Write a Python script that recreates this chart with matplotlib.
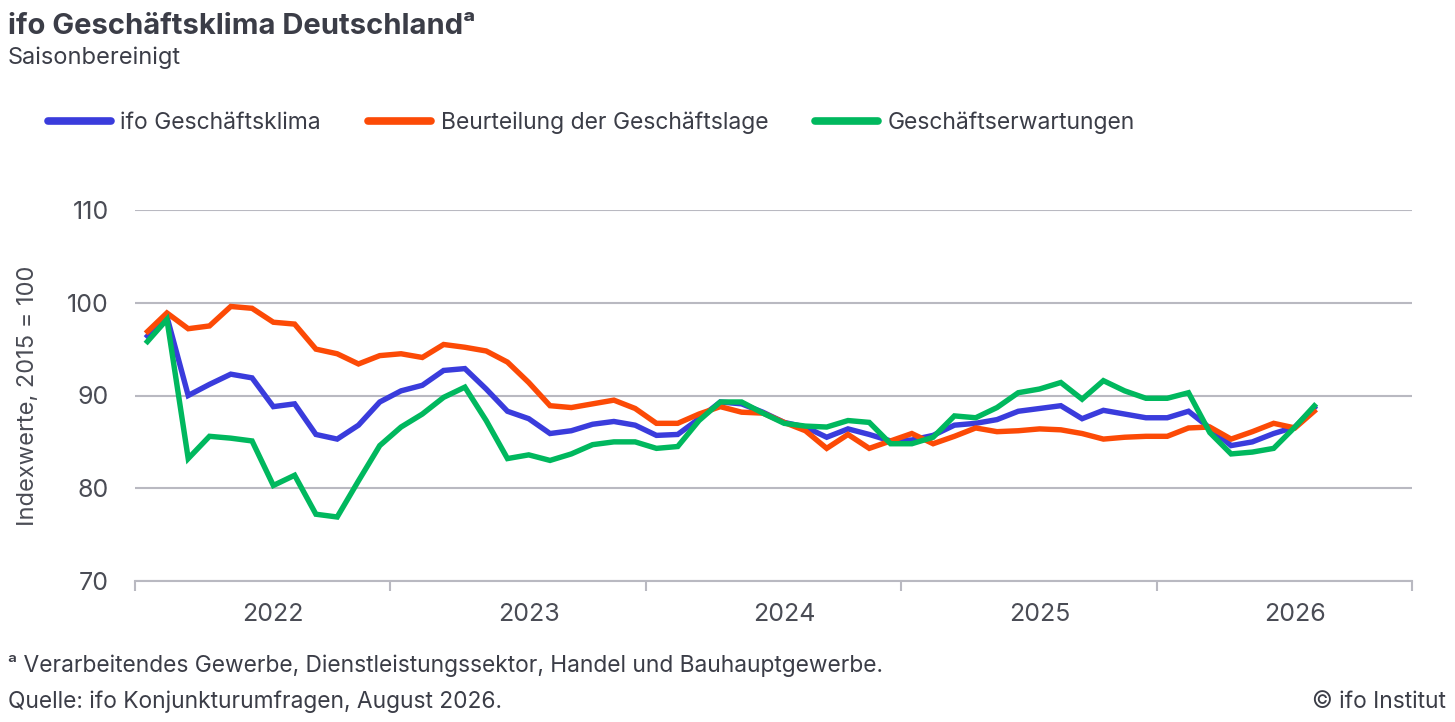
import matplotlib
matplotlib.use("Agg")
import matplotlib.pyplot as plt
import numpy as np

plt.rcParams['font.family'] = ['Inter', 'DejaVu Sans']

# monthly values Jan 2022 .. Aug 2026
klima = [96.2, 98.5, 90.0, 91.2, 92.3, 91.9, 88.8, 89.1, 85.8, 85.3, 86.8, 89.3,
         90.5, 91.1, 92.7, 92.9, 90.7, 88.3, 87.5, 85.9, 86.2, 86.9, 87.2, 86.8,
         85.7, 85.8, 87.5, 89.3, 89.1, 88.2, 87.1, 86.6, 85.5, 86.4, 85.8, 85.1,
         85.2, 85.7, 86.8, 87.0, 87.4, 88.3, 88.6, 88.9, 87.5, 88.4, 88.0, 87.6,
         87.6, 88.3, 86.5, 84.6, 85.0, 85.9, 86.6, 88.9]
lage = [96.7, 98.9, 97.2, 97.5, 99.6, 99.4, 97.9, 97.7, 95.0, 94.5, 93.4, 94.3,
        94.5, 94.1, 95.5, 95.2, 94.8, 93.6, 91.4, 88.9, 88.7, 89.1, 89.5, 88.6,
        87.0, 87.0, 88.0, 88.8, 88.2, 88.1, 87.1, 86.2, 84.3, 85.8, 84.3, 85.1,
        85.9, 84.8, 85.6, 86.5, 86.1, 86.2, 86.4, 86.3, 85.9, 85.3, 85.5, 85.6,
        85.6, 86.5, 86.6, 85.3, 86.1, 87.0, 86.5, 88.5]
erwart = [95.6, 98.2, 83.2, 85.6, 85.4, 85.1, 80.3, 81.4, 77.2, 76.9, 80.8, 84.6,
          86.6, 88.0, 89.8, 90.9, 87.3, 83.2, 83.6, 83.0, 83.7, 84.7, 85.0, 85.0,
          84.3, 84.5, 87.3, 89.3, 89.3, 88.1, 87.0, 86.7, 86.6, 87.3, 87.1, 84.8,
          84.8, 85.5, 87.8, 87.6, 88.7, 90.3, 90.7, 91.4, 89.6, 91.6, 90.5, 89.7,
          89.7, 90.3, 86.0, 83.7, 83.9, 84.3, 86.6, 89.1]
years = ['2022', '2023', '2024', '2025', '2026']
series_names = ['ifo Geschäftsklima', 'Beurteilung der Geschäftslage', 'Geschäftserwartungen']
colors = ['#3a3cdc', '#fc4a06', '#00b85e']

txt = '#3b3d47'
grid = '#b9b9c1'

fig = plt.figure(figsize=(14.55, 7.22), dpi=100)
ax = fig.add_axes([135/1455, 1 - 581/722, 1277/1455, 371/722])

x = np.arange(len(klima))
for vals, name, c in zip([klima, lage, erwart], series_names, colors):
    ax.plot(x, vals, color=c, lw=3.9, label=name, solid_joinstyle='miter',
            solid_capstyle='butt')

ax.set_xlim(-0.5, 12 * len(years) - 0.5)
ax.set_ylim(70, 110)
ax.set_yticks([70, 80, 90, 100, 110])
ax.yaxis.grid(True, color=grid, lw=1.5)
ax.set_axisbelow(True)
ax.tick_params(axis='y', length=0, pad=19, labelsize=18, labelcolor='#4a4c55')

ax.set_xticks(np.arange(len(years) + 1) * 12 - 0.5)
ax.set_xticklabels([])
ax.set_xticks(np.arange(len(years)) * 12 + 6, minor=True)
ax.set_xticklabels(years, minor=True)
ax.tick_params(axis='x', which='major', length=7, width=1.5, color=grid)
ax.tick_params(axis='x', which='minor', length=0, pad=16, labelsize=18, labelcolor='#4a4c55')

for s in ['top', 'right', 'left']:
    ax.spines[s].set_visible(False)
ax.spines['bottom'].set_color(grid)
ax.spines['bottom'].set_linewidth(1.5)

ax.set_ylabel('Indexwerte, 2015 = 100', fontsize=17, color='#4a4c55', labelpad=20)

leg = fig.legend(loc='center left', bbox_to_anchor=(27/1455, 1 - 123/722), ncol=3,
                 frameon=False, fontsize=16.5, handlelength=2.75, handletextpad=0.42,
                 columnspacing=2.05, labelcolor=txt)
for h in leg.legend_handles:
    h.set_linewidth(5.5)
    h.set_solid_capstyle('round')

fig.text(8/1455, 1 - 34/722, 'ifo Geschäftsklima Deutschland\u1d43', fontsize=21,
         fontweight='bold', color=txt, va='baseline')
fig.text(8/1455, 1 - 64/722, 'Saisonbereinigt', fontsize=17, color=txt, va='baseline')
fig.text(8/1455, 1 - 672/722, '\u1d43 Verarbeitendes Gewerbe, Dienstleistungssektor, Handel und Bauhauptgewerbe.',
         fontsize=16.4, color=txt, va='baseline')
fig.text(8/1455, 1 - 708/722, 'Quelle: ifo Konjunkturumfragen, August 2026.',
         fontsize=16.4, color=txt, va='baseline')
fig.text(1446/1455, 1 - 708/722, '© ifo Institut', fontsize=16.4, color=txt,
         va='baseline', ha='right')

fig.savefig('out.png', dpi=100)
